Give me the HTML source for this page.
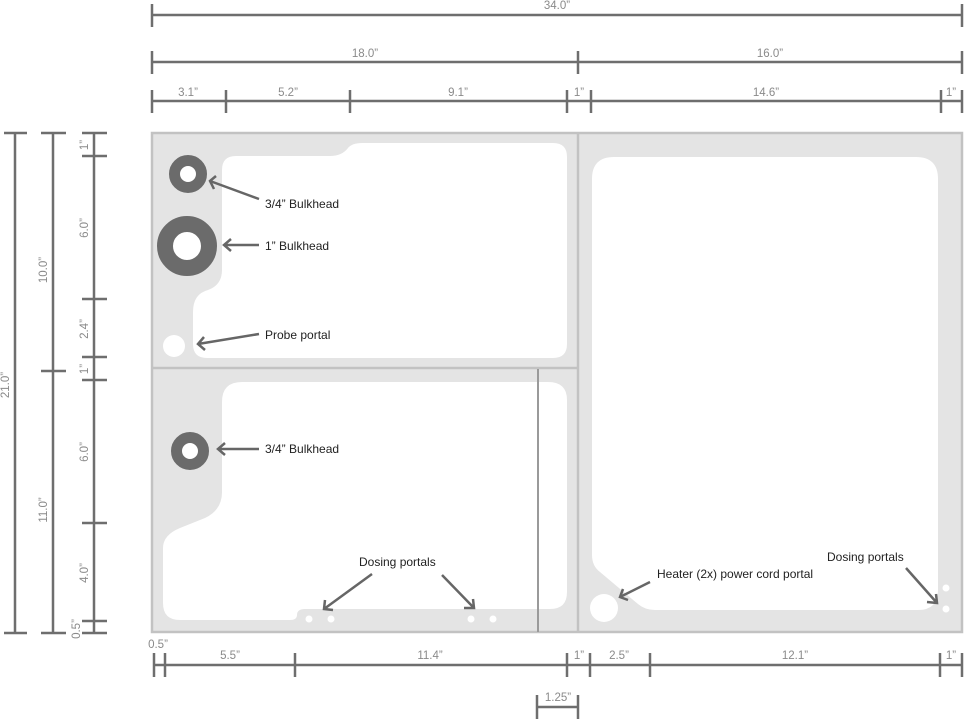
<!DOCTYPE html>
<html><head><meta charset="utf-8"><style>
html,body{margin:0;padding:0;background:#fff;}
svg{display:block;}
.d{stroke:#6e6e6e;stroke-width:2.5;fill:none;}
.dt{font-family:"Liberation Sans",sans-serif;font-size:11.5px;fill:#8a8a8a;text-anchor:middle;}
.lt{font-family:"Liberation Sans",sans-serif;font-size:12px;fill:#222;}
.ar{stroke:#666;stroke-width:2.5;fill:none;}
</style></head><body>
<svg width="964" height="720" viewBox="0 0 964 720" xmlns="http://www.w3.org/2000/svg">
<!-- tank -->
<rect x="152" y="133" width="810" height="499" fill="#e4e4e4" stroke="#c2c2c2" stroke-width="2.5"/>
<!-- top-left white -->
<path d="M236 156 L330 156 Q342 156 348 148 Q352 143 362 143 L553 143 Q567 143 567 157 L567 344 Q567 358 553 358 L207 358 Q193 358 193 344 L193 312 Q193 294 208 290 Q222 285 222 270 L222 170 Q222 156 236 156 Z" fill="#fff"/>
<!-- bottom-left white -->
<path d="M242 382 L548 382 Q567 382 567 400 L567 592 Q567 609 550 609 L305 609 Q297 609 297 615 Q297 620 290 620 L180 620 Q163 620 163 603 L163 548 Q163 535 180 528 L205 518 Q222 510 222 492 L222 402 Q222 382 242 382 Z" fill="#fff"/>
<!-- right white -->
<path d="M614 157 L916 157 Q938 157 938 179 L938 590 Q938 610 918 610 L655 610 Q645 610 638 604 L600 572 Q592 566 592 555 L592 179 Q592 157 614 157 Z" fill="#fff"/>
<!-- dividers -->
<line x1="578" y1="133" x2="578" y2="632" stroke="#c2c2c2" stroke-width="2.5"/>
<line x1="152" y1="368" x2="578" y2="368" stroke="#c2c2c2" stroke-width="2.5"/>
<line x1="538" y1="369" x2="538" y2="632" stroke="#9a9a9a" stroke-width="2"/>
<!-- holes -->
<circle cx="188" cy="174" r="13.5" fill="#fff" stroke="#6b6b6b" stroke-width="11"/>
<circle cx="187" cy="246" r="22" fill="#fff" stroke="#6b6b6b" stroke-width="16"/>
<circle cx="174" cy="346" r="11" fill="#fff"/>
<circle cx="190" cy="451" r="13.5" fill="#fff" stroke="#6b6b6b" stroke-width="11"/>
<circle cx="309" cy="619" r="3.5" fill="#fff"/><circle cx="331" cy="619" r="3.5" fill="#fff"/>
<circle cx="471" cy="619" r="3.5" fill="#fff"/><circle cx="493" cy="619" r="3.5" fill="#fff"/>
<circle cx="946" cy="588" r="3.5" fill="#fff"/><circle cx="946" cy="609" r="3.5" fill="#fff"/>
<circle cx="604" cy="608" r="14" fill="#fff"/>
<!-- arrows -->
<path class="ar" d="M259 199 L210 181 M216 176 L210 181 L214 189"/>
<path class="ar" d="M259 245 L224 245 M231 239 L224 245 L231 251"/>
<path class="ar" d="M259 334 L198 344 M204 337 L198 344 L205 350"/>
<path class="ar" d="M259 449 L218 449 M225 443 L218 449 L225 455"/>
<path class="ar" d="M372 574 L324 609 M325 600 L324 609 L333 610"/>
<path class="ar" d="M442 575 L474 608 M464 608 L474 608 L473 599"/>
<path class="ar" d="M650 582 L620 597 M623 589 L620 597 L628 600"/>
<path class="ar" d="M906 568 L937 603 M927 602 L937 603 L936 594"/>
<!-- labels -->
<text class="lt" x="265" y="208">3/4” Bulkhead</text>
<text class="lt" x="265" y="250">1” Bulkhead</text>
<text class="lt" x="265" y="339">Probe portal</text>
<text class="lt" x="265" y="453">3/4” Bulkhead</text>
<text class="lt" x="359" y="566">Dosing portals</text>
<text class="lt" x="657" y="578">Heater (2x) power cord portal</text>
<text class="lt" x="827" y="561">Dosing portals</text>
<!-- top dims -->
<g class="d">
<line x1="152" y1="15" x2="962" y2="15"/><line x1="152" y1="4" x2="152" y2="27"/><line x1="962" y1="4" x2="962" y2="27"/>
<line x1="152" y1="62" x2="962" y2="62"/><line x1="152" y1="51" x2="152" y2="74"/><line x1="578" y1="51" x2="578" y2="74"/><line x1="962" y1="51" x2="962" y2="74"/>
<line x1="152" y1="101" x2="962" y2="101"/>
<line x1="152" y1="90" x2="152" y2="113"/><line x1="226" y1="90" x2="226" y2="113"/><line x1="350" y1="90" x2="350" y2="113"/><line x1="567" y1="90" x2="567" y2="113"/><line x1="591" y1="90" x2="591" y2="113"/><line x1="941" y1="90" x2="941" y2="113"/><line x1="962" y1="90" x2="962" y2="113"/>
</g>
<text class="dt" x="557" y="9">34.0”</text>
<text class="dt" x="365" y="57">18.0”</text>
<text class="dt" x="770" y="57">16.0”</text>
<text class="dt" x="188" y="96">3.1”</text>
<text class="dt" x="288" y="96">5.2”</text>
<text class="dt" x="458" y="96">9.1”</text>
<text class="dt" x="579" y="96">1”</text>
<text class="dt" x="766" y="96">14.6”</text>
<text class="dt" x="951" y="96">1”</text>
<!-- bottom dims -->
<g class="d">
<line x1="154" y1="665" x2="962" y2="665"/>
<line x1="154" y1="653" x2="154" y2="677"/><line x1="165" y1="653" x2="165" y2="677"/><line x1="295" y1="653" x2="295" y2="677"/><line x1="567" y1="653" x2="567" y2="677"/><line x1="590" y1="653" x2="590" y2="677"/><line x1="650" y1="653" x2="650" y2="677"/><line x1="940" y1="653" x2="940" y2="677"/><line x1="962" y1="653" x2="962" y2="677"/>
<line x1="537" y1="707" x2="578" y2="707"/><line x1="537" y1="695" x2="537" y2="719"/><line x1="578" y1="695" x2="578" y2="719"/>
</g>
<text class="dt" x="158" y="648">0.5”</text>
<text class="dt" x="230" y="659">5.5”</text>
<text class="dt" x="430" y="659">11.4”</text>
<text class="dt" x="579" y="659">1”</text>
<text class="dt" x="619" y="659">2.5”</text>
<text class="dt" x="795" y="659">12.1”</text>
<text class="dt" x="951" y="659">1”</text>
<text class="dt" x="558" y="701">1.25”</text>
<!-- left dims -->
<g class="d">
<line x1="15" y1="133" x2="15" y2="633"/><line x1="4" y1="133" x2="27" y2="133"/><line x1="4" y1="633" x2="27" y2="633"/>
<line x1="53" y1="133" x2="53" y2="633"/><line x1="41" y1="133" x2="66" y2="133"/><line x1="41" y1="371" x2="66" y2="371"/><line x1="41" y1="633" x2="66" y2="633"/>
<line x1="94" y1="133" x2="94" y2="633"/>
<line x1="82" y1="133" x2="107" y2="133"/><line x1="82" y1="156" x2="107" y2="156"/><line x1="82" y1="299" x2="107" y2="299"/><line x1="82" y1="357" x2="107" y2="357"/><line x1="82" y1="380" x2="107" y2="380"/><line x1="82" y1="523" x2="107" y2="523"/><line x1="82" y1="621" x2="107" y2="621"/><line x1="82" y1="633" x2="107" y2="633"/>
</g>
<g class="dt">
<text transform="translate(9,385) rotate(-90)">21.0”</text>
<text transform="translate(47,270) rotate(-90)">10.0”</text>
<text transform="translate(47,510) rotate(-90)">11.0”</text>
<text transform="translate(88,145) rotate(-90)">1”</text>
<text transform="translate(88,228) rotate(-90)">6.0”</text>
<text transform="translate(88,329) rotate(-90)">2.4”</text>
<text transform="translate(88,369) rotate(-90)">1”</text>
<text transform="translate(88,452) rotate(-90)">6.0”</text>
<text transform="translate(88,573) rotate(-90)">4.0”</text>
<text transform="translate(80,629) rotate(-90)">0.5”</text>
</g>
</svg>
</body></html>
